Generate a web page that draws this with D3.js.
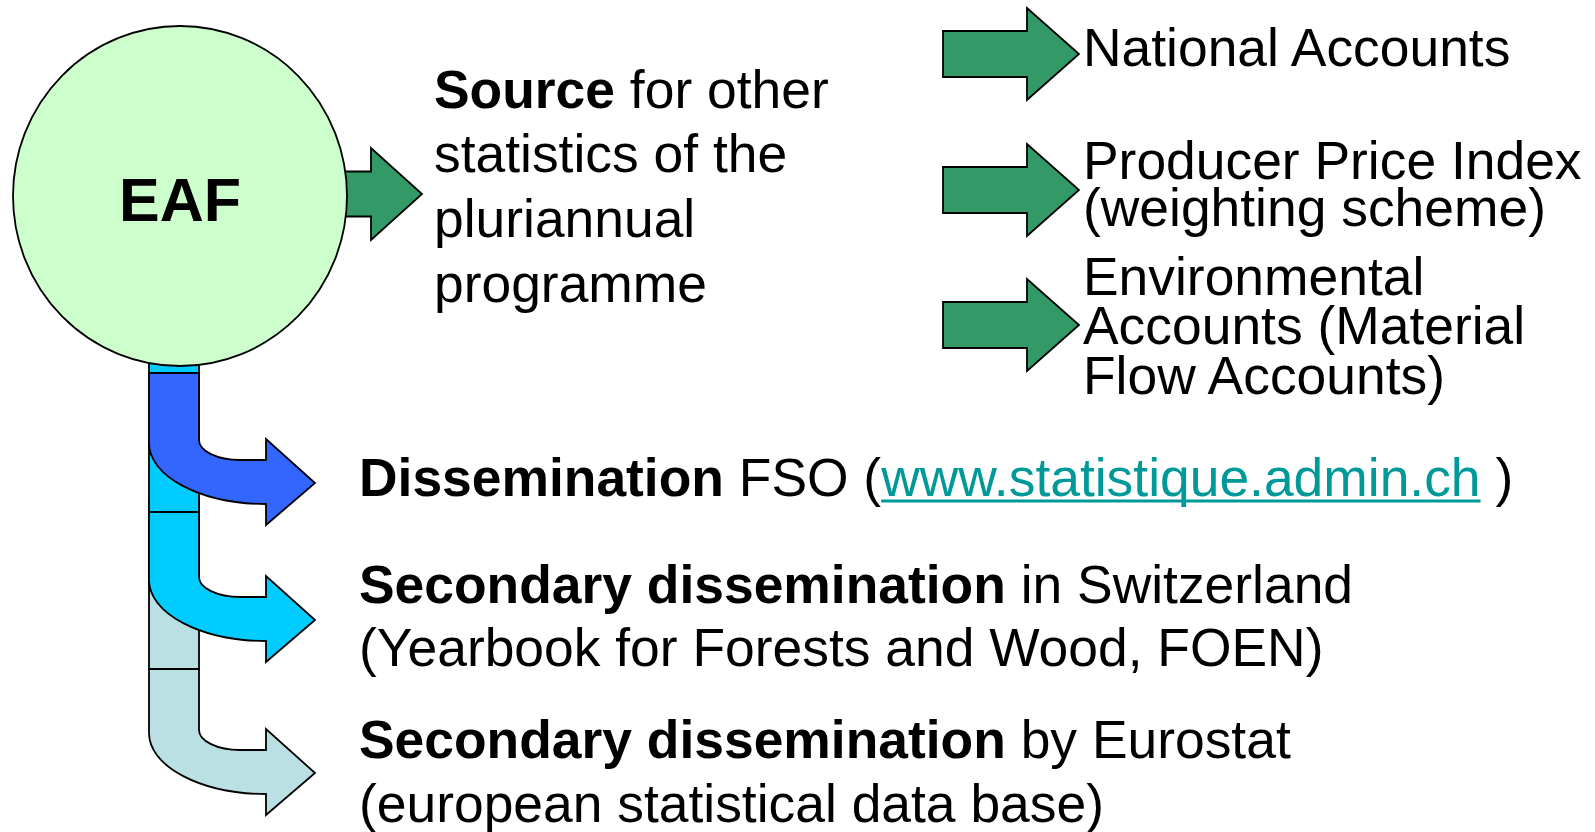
<!DOCTYPE html>
<html>
<head>
<meta charset="utf-8">
<script src="https://cdn.jsdelivr.net/npm/d3@7"></script>
<style>
  html, body { margin: 0; padding: 0; background: #fff; }
  svg { display: block; }
  text { font-family: "Liberation Sans", Arial, sans-serif; fill: #000; }
</style>
</head>
<body>
<div id="diagram"></div>
<script>

// ---- content ----
const centerLabel = "EAF";

// rich text lines: each line is a list of [text, bold] pieces
const sourceLines = [
    [["Source", true], [" for other", false]],
    [["statistics of the", false]],
    [["pluriannual", false]],
    [["programme", false]]
];

const targetLabels = [
    ["National Accounts"],
    ["Producer Price Index", "(weighting scheme)"],
    ["Environmental", "Accounts (Material", "Flow Accounts)"]
];

const disseminationLines = [
    [[["Dissemination", true], [" FSO (", false], ["www.statistique.admin.ch", false, "link"], [" )", false]]],
    [[["Secondary dissemination", true], [" in Switzerland", false]],
     [["(Yearbook for Forests and Wood, FOEN)", false]]],
    [[["Secondary dissemination", true], [" by Eurostat", false]],
     [["(european statistical data base)", false]]]
];

const flowColors = ["#3366ff", "#00ccff", "#bbe0e3"];
const green = "#339966";
const circleFill = "#ccffcc";
const linkColor = "#009999";

// ---- layout ----
const width = 1595, height = 832;
const fontSize = 53.4;

const svg = d3.select("#diagram").append("svg")
    .attr("width", width)
    .attr("height", height);

const stroke = { color: "#000", width: 1.8 };

// vertical trunk under the circle (tops of each bent arrow)
const trunk = { x0: 149, x1: 199 };
const flowTops = [373, 512, 669];
const flowTips = [483, 620, 773];
const headBase = 266, tipX = 315;

// rows of right-hand targets, tip y of each straight arrow
const targetTips = [54, 190, 325];
const targetLineY = [[66], [179, 226], [295, 344, 394]];

// straight block arrow, pointing right
function blockArrow(x0, xBase, xTip, cy, halfShaft, halfHead) {
    const p = d3.path();
    p.moveTo(x0, cy - halfShaft);
    p.lineTo(xBase, cy - halfShaft);
    p.lineTo(xBase, cy - halfHead);
    p.lineTo(xTip, cy);
    p.lineTo(xBase, cy + halfHead);
    p.lineTo(xBase, cy + halfShaft);
    p.lineTo(x0, cy + halfShaft);
    p.closePath();
    return p.toString();
}

// bent arrow: down the trunk, then curving right
function bentArrow(top, ty) {
    return "M" + trunk.x0 + "," + top +
        "L" + trunk.x1 + "," + top +
        "L" + trunk.x1 + "," + (ty - 43) +
        "A41,20 0 0 0 240," + (ty - 23) +
        "L" + headBase + "," + (ty - 23) +
        "L" + headBase + "," + (ty - 44) +
        "L" + tipX + "," + ty +
        "L" + headBase + "," + (ty + 42) +
        "L" + headBase + "," + (ty + 21) +
        "A117,61 0 0 1 " + trunk.x0 + "," + (ty - 40) +
        "Z";
}

// filler bars behind the bent arrows
const fillers = [
    { top: 500, bottom: flowTops[2], color: flowColors[2] },
    { top: 340, bottom: flowTops[1], color: flowColors[1] }
];

svg.selectAll("rect.filler")
    .data(fillers)
    .join("rect")
    .attr("class", "filler")
    .attr("x", trunk.x0)
    .attr("y", d => d.top)
    .attr("width", trunk.x1 - trunk.x0)
    .attr("height", d => d.bottom - d.top)
    .attr("fill", d => d.color)
    .attr("stroke", stroke.color)
    .attr("stroke-width", stroke.width);

// arrow from the circle to the "Source" text
svg.append("path")
    .attr("d", blockArrow(320, 371, 422, 194, 22.5, 46))
    .attr("fill", green)
    .attr("stroke", stroke.color)
    .attr("stroke-width", stroke.width)
    .attr("stroke-linejoin", "miter");

// the EAF circle
svg.append("ellipse")
    .attr("cx", 180)
    .attr("cy", 196)
    .attr("rx", 167)
    .attr("ry", 170)
    .attr("fill", circleFill)
    .attr("stroke", stroke.color)
    .attr("stroke-width", stroke.width);

svg.append("text")
    .attr("x", 180)
    .attr("y", 221)
    .attr("text-anchor", "middle")
    .style("font-size", "61px")
    .style("font-weight", "bold")
    .text(centerLabel);

// bent dissemination arrows
svg.selectAll("path.flow")
    .data(flowColors)
    .join("path")
    .attr("class", "flow")
    .attr("d", (d, i) => bentArrow(flowTops[i], flowTips[i]))
    .attr("fill", d => d)
    .attr("stroke", stroke.color)
    .attr("stroke-width", stroke.width)
    .attr("stroke-linejoin", "miter");

// straight arrows to the other statistics
svg.selectAll("path.target")
    .data(targetTips)
    .join("path")
    .attr("class", "target")
    .attr("d", d => blockArrow(943, 1027, 1079, d, 23, 46))
    .attr("fill", green)
    .attr("stroke", stroke.color)
    .attr("stroke-width", stroke.width);

// write one line of rich text
function richLine(x, y, pieces) {
    const t = svg.append("text")
        .attr("x", x)
        .attr("y", y)
        .style("font-size", fontSize + "px")
        .attr("xml:space", "preserve");
    pieces.forEach(p => {
        const span = t.append("tspan")
            .style("font-weight", p[1] ? "bold" : "normal")
            .text(p[0]);
        if (p[2] === "link") span.style("fill", linkColor).classed("link", true);
    });
    return t;
}

// source text
const sourceY = [108, 172, 237, 302];
sourceLines.forEach((line, i) => richLine(434, sourceY[i], line));

// target texts
targetLabels.forEach((lines, i) => {
    lines.forEach((line, j) => richLine(1083, targetLineY[i][j], [[line, false]]));
});

// dissemination texts
const dissY = [[496], [603, 666], [758, 822]];
disseminationLines.forEach((block, i) => {
    block.forEach((line, j) => {
        const t = richLine(359, dissY[i][j], line);
        // underline the link
        t.selectAll("tspan.link").each(function() {
            const n = this.getNumberOfChars();
            const x0 = this.getStartPositionOfChar(0).x;
            const x1 = this.getEndPositionOfChar(n - 1).x;
            svg.append("line")
                .attr("x1", x0).attr("x2", x1)
                .attr("y1", dissY[i][j] + 5).attr("y2", dissY[i][j] + 5)
                .attr("stroke", linkColor)
                .attr("stroke-width", 3.2);
        });
    });
});

</script>
</body>
</html>
